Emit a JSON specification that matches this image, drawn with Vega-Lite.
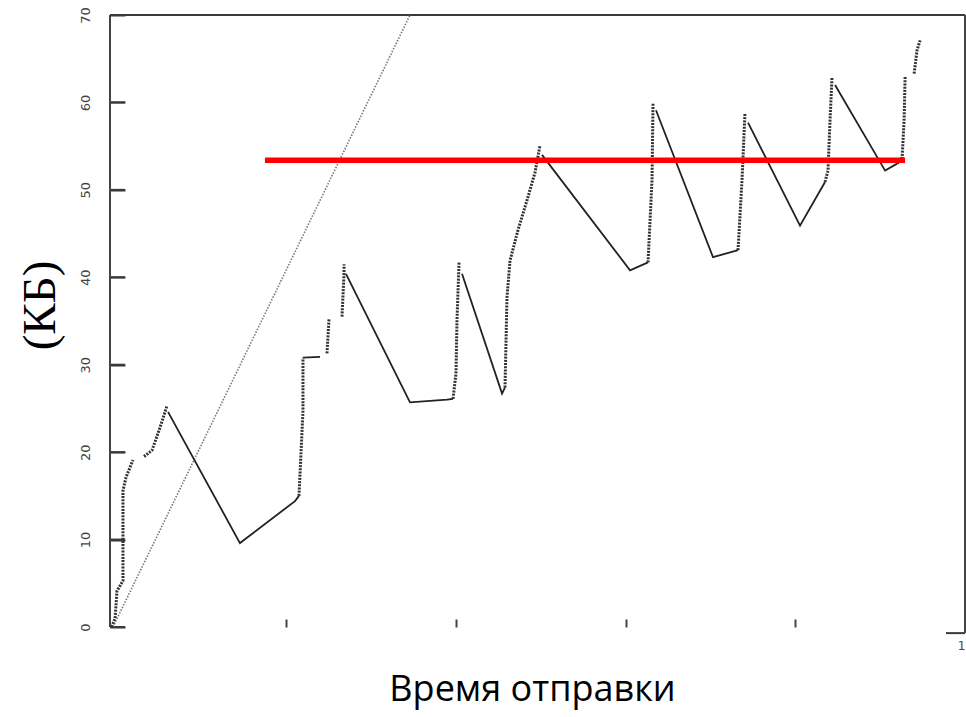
{
  "$schema": "https://vega.github.io/schema/vega-lite/v6.json",
  "width": 855,
  "height": 612,
  "autosize": {"type": "none"},
  "padding": {"left": 110, "top": 15, "right": 1, "bottom": 90},
  "background": "white",
  "config": {"view": {"stroke": null}, "axis": {"grid": false}},
  "datasets": {
    "cwnd": [
      {"i": 1, "seg": "r1", "kind": "rise", "t": -0.006, "kb": 0},
      {"i": 2, "seg": "r1", "kind": "rise", "t": -0.002, "kb": 1.0},
      {"i": 3, "seg": "r1", "kind": "rise", "t": 0.0002, "kb": 4.1},
      {"i": 4, "seg": "r1", "kind": "rise", "t": 0.0073, "kb": 5.3},
      {"i": 5, "seg": "r1", "kind": "rise", "t": 0.0073, "kb": 15.6},
      {"i": 6, "seg": "r1", "kind": "rise", "t": 0.0108, "kb": 17.1},
      {"i": 7, "seg": "r1", "kind": "rise", "t": 0.0191, "kb": 19.1},
      {"i": 8, "seg": "r2", "kind": "rise", "t": 0.0321, "kb": 19.5},
      {"i": 9, "seg": "r2", "kind": "rise", "t": 0.0415, "kb": 20.2},
      {"i": 10, "seg": "r2", "kind": "rise", "t": 0.0509, "kb": 22.8},
      {"i": 11, "seg": "r2", "kind": "rise", "t": 0.0592, "kb": 25.3},
      {"i": 12, "seg": "f1", "kind": "fall", "t": 0.0604, "kb": 24.6},
      {"i": 13, "seg": "f1", "kind": "fall", "t": 0.1452, "kb": 9.6},
      {"i": 14, "seg": "f1", "kind": "fall", "t": 0.2101, "kb": 14.4},
      {"i": 15, "seg": "f1", "kind": "fall", "t": 0.2148, "kb": 15.0},
      {"i": 16, "seg": "r3", "kind": "rise", "t": 0.2148, "kb": 15.0},
      {"i": 17, "seg": "r3", "kind": "rise", "t": 0.2195, "kb": 24.7},
      {"i": 18, "seg": "r3", "kind": "rise", "t": 0.2195, "kb": 30.8},
      {"i": 19, "seg": "f2", "kind": "fall", "t": 0.2195, "kb": 30.8},
      {"i": 20, "seg": "f2", "kind": "fall", "t": 0.2396, "kb": 30.9},
      {"i": 21, "seg": "r4", "kind": "rise", "t": 0.2478, "kb": 31.3},
      {"i": 22, "seg": "r4", "kind": "rise", "t": 0.2502, "kb": 35.2},
      {"i": 23, "seg": "r5", "kind": "rise", "t": 0.2655, "kb": 35.5},
      {"i": 24, "seg": "r5", "kind": "rise", "t": 0.2679, "kb": 40.4},
      {"i": 25, "seg": "r5", "kind": "rise", "t": 0.2679, "kb": 41.5},
      {"i": 26, "seg": "f3", "kind": "fall", "t": 0.2702, "kb": 40.4},
      {"i": 27, "seg": "f3", "kind": "fall", "t": 0.3457, "kb": 25.7},
      {"i": 28, "seg": "f3", "kind": "fall", "t": 0.3893, "kb": 26.0},
      {"i": 29, "seg": "f3", "kind": "fall", "t": 0.3964, "kb": 26.1},
      {"i": 30, "seg": "r6", "kind": "rise", "t": 0.3964, "kb": 26.1},
      {"i": 31, "seg": "r6", "kind": "rise", "t": 0.3999, "kb": 29.0},
      {"i": 32, "seg": "r6", "kind": "rise", "t": 0.4011, "kb": 35.1},
      {"i": 33, "seg": "r6", "kind": "rise", "t": 0.4035, "kb": 41.7},
      {"i": 34, "seg": "f4", "kind": "fall", "t": 0.4070, "kb": 40.4},
      {"i": 35, "seg": "f4", "kind": "fall", "t": 0.4542, "kb": 26.7},
      {"i": 36, "seg": "f4", "kind": "fall", "t": 0.4577, "kb": 27.4},
      {"i": 37, "seg": "r7", "kind": "rise", "t": 0.4577, "kb": 27.4},
      {"i": 38, "seg": "r7", "kind": "rise", "t": 0.4600, "kb": 37.7},
      {"i": 39, "seg": "r7", "kind": "rise", "t": 0.4636, "kb": 41.9},
      {"i": 40, "seg": "r7", "kind": "rise", "t": 0.4730, "kb": 45.4},
      {"i": 41, "seg": "r7", "kind": "rise", "t": 0.4836, "kb": 48.8},
      {"i": 42, "seg": "r7", "kind": "rise", "t": 0.4931, "kb": 52.0},
      {"i": 43, "seg": "r7", "kind": "rise", "t": 0.4990, "kb": 55.1},
      {"i": 44, "seg": "f5", "kind": "fall", "t": 0.5013, "kb": 54.0},
      {"i": 45, "seg": "f5", "kind": "fall", "t": 0.6051, "kb": 40.8},
      {"i": 46, "seg": "f5", "kind": "fall", "t": 0.6263, "kb": 41.7},
      {"i": 47, "seg": "r8", "kind": "rise", "t": 0.6263, "kb": 41.7},
      {"i": 48, "seg": "r8", "kind": "rise", "t": 0.6310, "kb": 51.1},
      {"i": 49, "seg": "r8", "kind": "rise", "t": 0.6322, "kb": 59.9},
      {"i": 50, "seg": "f6", "kind": "fall", "t": 0.6357, "kb": 59.1},
      {"i": 51, "seg": "f6", "kind": "fall", "t": 0.7029, "kb": 42.3},
      {"i": 52, "seg": "f6", "kind": "fall", "t": 0.7324, "kb": 43.1},
      {"i": 53, "seg": "r9", "kind": "rise", "t": 0.7324, "kb": 43.1},
      {"i": 54, "seg": "r9", "kind": "rise", "t": 0.7371, "kb": 51.1},
      {"i": 55, "seg": "r9", "kind": "rise", "t": 0.7406, "kb": 58.8},
      {"i": 56, "seg": "f7", "kind": "fall", "t": 0.7442, "kb": 57.7},
      {"i": 57, "seg": "f7", "kind": "fall", "t": 0.8055, "kb": 45.9},
      {"i": 58, "seg": "f7", "kind": "fall", "t": 0.8350, "kb": 50.9},
      {"i": 59, "seg": "r10", "kind": "rise", "t": 0.8350, "kb": 50.9},
      {"i": 60, "seg": "r10", "kind": "rise", "t": 0.8385, "kb": 52.2},
      {"i": 61, "seg": "r10", "kind": "rise", "t": 0.8409, "kb": 58.0},
      {"i": 62, "seg": "r10", "kind": "rise", "t": 0.8432, "kb": 62.9},
      {"i": 63, "seg": "f8", "kind": "fall", "t": 0.8468, "kb": 62.0},
      {"i": 64, "seg": "f8", "kind": "fall", "t": 0.9058, "kb": 52.2},
      {"i": 65, "seg": "f8", "kind": "fall", "t": 0.9200, "kb": 53.0},
      {"i": 66, "seg": "r11", "kind": "rise", "t": 0.9200, "kb": 53.0},
      {"i": 67, "seg": "r11", "kind": "rise", "t": 0.9259, "kb": 53.7},
      {"i": 68, "seg": "r11", "kind": "rise", "t": 0.9282, "kb": 58.0},
      {"i": 69, "seg": "r11", "kind": "rise", "t": 0.9294, "kb": 62.9},
      {"i": 70, "seg": "r12", "kind": "rise", "t": 0.9400, "kb": 63.3},
      {"i": 71, "seg": "r12", "kind": "rise", "t": 0.9435, "kb": 66.0},
      {"i": 72, "seg": "r12", "kind": "rise", "t": 0.9471, "kb": 67.1}
    ],
    "slowstart": [
      {"t": -0.0045, "kb": 0},
      {"t": 0.3457, "kb": 70}
    ],
    "threshold": [
      {"t": 0.1747, "t2": 0.9293, "kb": 53.4}
    ],
    "frameH": [
      {"t": -0.008, "t2": 1.0, "kb": 70},
      {"t": 0.9776, "t2": 1.0, "kb": -0.7},
      {"t": -0.008, "t2": 0.0097, "kb": 0},
      {"t": -0.008, "t2": 0.0097, "kb": 10},
      {"t": -0.008, "t2": 0.0097, "kb": 20},
      {"t": -0.008, "t2": 0.0097, "kb": 30},
      {"t": -0.008, "t2": 0.0097, "kb": 40},
      {"t": -0.008, "t2": 0.0097, "kb": 50},
      {"t": -0.008, "t2": 0.0097, "kb": 60}
    ],
    "frameV": [
      {"t": 1.0, "kb": -0.7, "kb2": 70},
      {"t": -0.008, "kb": 0, "kb2": 70}
    ]
  },
  "layer": [
    {
      "data": {"name": "frameH"},
      "mark": {"type": "rule", "color": "#3a3a3a", "strokeWidth": 2},
      "encoding": {
        "x": {"field": "t", "type": "quantitative", "scale": {"domain": [-0.008, 1.0], "nice": false, "zero": false},
          "axis": {
            "orient": "bottom",
            "values": [0.2, 0.4, 0.6, 0.8, 1.0],
            "domain": false,
            "ticks": true,
            "tickSize": -8,
            "tickWidth": 2,
            "tickColor": "#444",
            "labelExpr": "datum.value == 1 ? '1' : ''",
            "labelFontSize": 12,
            "labelColor": "#444",
            "labelFont": "DejaVu Sans",
            "labelFlush": false,
            "labelOffset": -4,
            "labelPadding": 21,
            "title": "Время отправки",
            "titleFont": "Open Sans",
            "titleFontSize": 36,
            "titleFontWeight": "normal",
            "titleColor": "#000",
            "titleX": 422,
            "titleY": 73,
            "titleAlign": "center",
            "titleBaseline": "alphabetic"
          }},
        "x2": {"field": "t2"},
        "y": {"field": "kb", "type": "quantitative", "scale": {"domain": [0, 70], "nice": false, "zero": false},
          "axis": {
            "orient": "left",
            "offset": -15,
            "values": [0, 10, 20, 30, 40, 50, 60, 70],
            "domain": false,
            "ticks": true,
            "tickSize": 15,
            "tickWidth": 2,
            "tickColor": "#333",
            "labelAngle": -90,
            "labelAlign": "center",
            "labelBaseline": "bottom",
            "labelFontSize": 13,
            "labelColor": "#444",
            "labelFont": "DejaVu Sans",
            "labelPadding": 18,
            "labelFlush": false,
            "labelOverlap": false,
            "title": "(КБ)",
            "titleFont": "Liberation Serif",
            "titleFontSize": 47,
            "titleFontWeight": "normal",
            "titleColor": "#000",
            "titleAngle": -90,
            "titleAlign": "center",
            "titleBaseline": "middle",
            "titleX": -85,
            "titleY": 290
          }}
      }
    },
    {
      "data": {"name": "frameV"},
      "mark": {"type": "rule", "color": "#444", "strokeWidth": 2},
      "encoding": {
        "x": {"field": "t", "type": "quantitative"},
        "y": {"field": "kb", "type": "quantitative"},
        "y2": {"field": "kb2"}
      }
    },
    {
      "data": {"name": "slowstart"},
      "mark": {"type": "line", "color": "#777", "strokeWidth": 1.6, "strokeDash": [1.5, 1.5], "clip": true},
      "encoding": {
        "x": {"field": "t", "type": "quantitative"},
        "y": {"field": "kb", "type": "quantitative"}
      }
    },
    {
      "data": {"name": "cwnd"},
      "transform": [{"filter": "datum.kind == 'fall'"}],
      "mark": {"type": "line", "color": "#222", "strokeWidth": 1.8},
      "encoding": {
        "x": {"field": "t", "type": "quantitative"},
        "y": {"field": "kb", "type": "quantitative"},
        "detail": {"field": "seg", "type": "nominal"},
        "order": {"field": "i", "type": "quantitative"}
      }
    },
    {
      "data": {"name": "cwnd"},
      "transform": [{"filter": "datum.kind == 'rise'"}],
      "mark": {"type": "line", "color": "#333", "strokeWidth": 3, "strokeDash": [2, 1.2], "strokeCap": "butt"},
      "encoding": {
        "x": {"field": "t", "type": "quantitative"},
        "y": {"field": "kb", "type": "quantitative"},
        "detail": {"field": "seg", "type": "nominal"},
        "order": {"field": "i", "type": "quantitative"}
      }
    },
    {
      "data": {"name": "threshold"},
      "mark": {"type": "rule", "color": "#ff0000", "strokeWidth": 5.5},
      "encoding": {
        "x": {"field": "t", "type": "quantitative"},
        "x2": {"field": "t2"},
        "y": {"field": "kb", "type": "quantitative"}
      }
    }
  ]
}
